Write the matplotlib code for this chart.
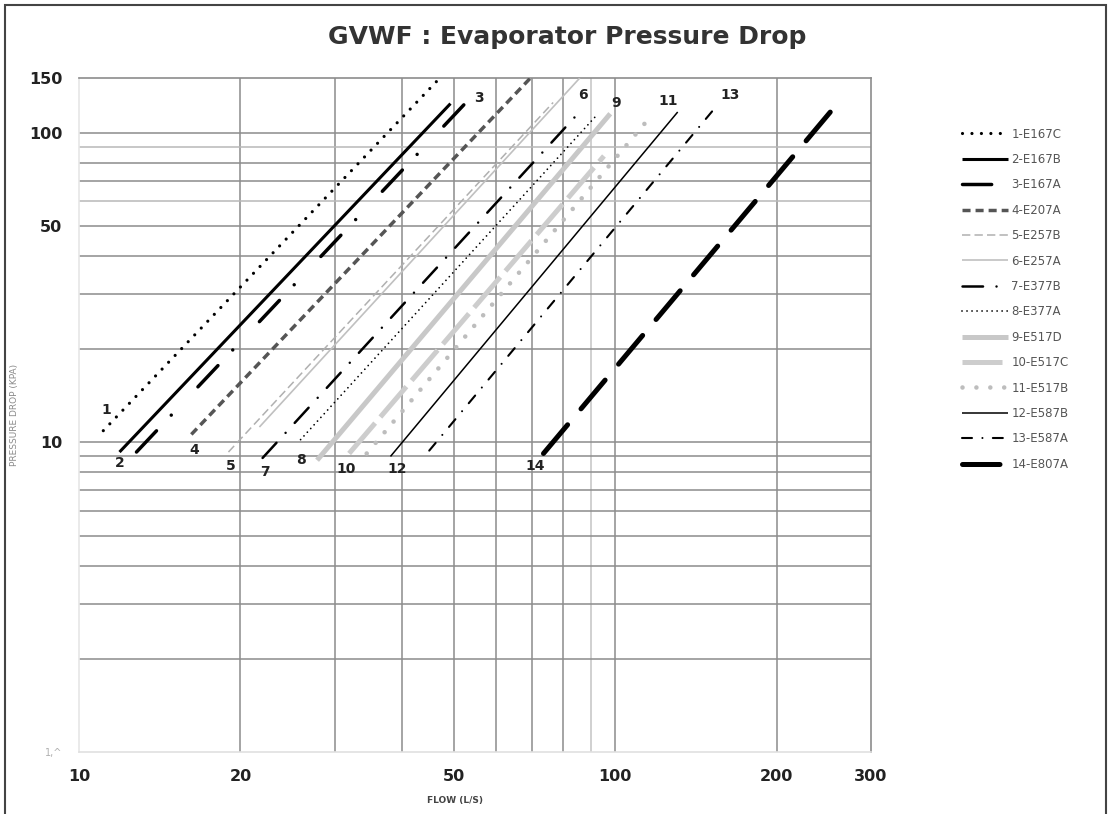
import numpy as np
import matplotlib
matplotlib.use('Agg')
import matplotlib.pyplot as plt
from matplotlib.patches import Rectangle

plt.rcParams['font.family'] = ['DejaVu Sans']
plt.rcParams['lines.scale_dashes'] = False

# series: two end points per model (straight lines on log-log)
models = ['1-E167C', '2-E167B', '3-E167A', '4-E207A', '5-E257B', '6-E257A', '7-E377B',
          '8-E377A', '9-E517D', '10-E517C', '11-E517B', '12-E587B', '13-E587A', '14-E807A']
flow_start = [11.1, 11.9, 12.8, 16.2, 19.0, 21.7, 22.0, 25.9, 27.8, 31.9, 34.4, 38.1, 45.0, 73.5]
flow_end = [47.1, 49.3, 52.7, 69.5, 76.6, 85.9, 85.2, 92.9, 97.9, 95.3, 115.4, 130.8, 151.6, 256.6]
dp_start = [10.9, 9.3, 9.3, 10.6, 9.3, 11.2, 8.9, 10.2, 8.75, 9.2, 9.2, 9.0, 9.4, 9.2]
dp_end = [150, 124, 125, 150, 125, 150, 115, 115, 115, 84, 110.6, 116.5, 117, 121]

x_ticks = [10, 20, 50, 100, 200, 300]
y_ticks = [1, 10, 50, 100, 150]
y_tick_labels = ['1,^', '10', '50', '100', '150']

# line styles (color, width pt, dash pattern pt, cap)
styles = [
    ('black', 2.3, (0, (0.01, 6.8)), 'round'),
    ('black', 2.2, '-', 'butt'),
    ('black', 2.5, (0, (21, 15.5, 0.01, 28)), 'round'),
    ('#555555', 2.5, (0, (5.8, 3.6)), 'butt'),
    ('#b0b0b0', 1.1, (0, (6, 3)), 'butt'),
    ('#c0c0c0', 1.2, '-', 'butt'),
    ('black', 1.8, (0, (14.8, 9.7, 0.01, 9.7)), 'round'),
    ('black', 1.3, (0, (0.01, 3.6)), 'round'),
    ('#c8c8c8', 3.6, '-', 'butt'),
    ('#cdcdcd', 3.6, (0, (28.8, 5.8)), 'butt'),
    ('#bdbdbd', 3.3, (0, (0.01, 10)), 'round'),
    ('black', 1.1, '-', 'butt'),
    ('black', 1.5, (0, (7.2, 7.5, 0.01, 7.5)), 'round'),
    ('black', 3.6, (0, (27, 15)), 'round'),
]

# number labels: which end, offset in points
num_pos = [('s', 2, 15), ('s', 0, -8), ('e', 9, 3), ('s', 2, -11), ('s', 2, -10), ('e', 2, -12),
           ('s', 2, -10), ('s', 0, -15), ('e', 4, 8), ('s', -2, -11), ('e', 14, 13), ('s', 5, -9),
           ('e', 13, 12), ('s', -6, -9)]

fig = plt.figure(figsize=(11.12, 8.14), dpi=100)
ax = fig.add_axes([79 / 1112, 62 / 814, 792 / 1112, 674 / 814])
ax.set_xscale('log')
ax.set_yscale('log')
ax.set_xlim(10, 300)
ax.set_ylim(1, 150)

grid_c = '#8c8c8c'
for v in [20, 30, 40, 50, 60, 70, 80, 90, 100, 200]:
    ax.axvline(v, color='#c4c4c4' if v == 90 else grid_c, lw=1.1, zorder=1)
for v in [2, 3, 4, 5, 6, 7, 8, 9, 10, 20, 30, 40, 50, 60, 70, 80, 90, 100]:
    ax.axhline(v, color='#b8b8b8' if v in (60, 90) else grid_c, lw=1.1, zorder=1)

for i in range(len(models)):
    c, lw, ls, cap = styles[i]
    ax.plot([flow_start[i], flow_end[i]], [dp_start[i], dp_end[i]], color=c, lw=lw,
            linestyle=ls, dash_capstyle=cap, solid_capstyle=cap, label=models[i], zorder=3)
    end, dx, dy = num_pos[i]
    px = flow_start[i] if end == 's' else flow_end[i]
    py = dp_start[i] if end == 's' else dp_end[i]
    ax.annotate(models[i].split('-')[0], (px, py), xytext=(dx, dy), textcoords='offset points',
                ha='center', va='center', fontsize=10, fontweight='bold', color='#222222', zorder=4)

ax.set_xticks(x_ticks)
ax.set_xticklabels([str(v) for v in x_ticks])
ax.set_yticks(y_ticks)
ax.set_yticklabels(y_tick_labels)
ax.minorticks_off()
ax.tick_params(length=0, labelsize=11.5, pad=12)
for lab in ax.get_xticklabels() + ax.get_yticklabels():
    lab.set_fontweight('bold')
    lab.set_color('#222222')
ylabs = ax.get_yticklabels()
ylabs[0].set_color('#b0b0b0')
ylabs[0].set_fontsize(7)
ylabs[0].set_fontweight('normal')

ax.spines['top'].set_color(grid_c)
ax.spines['right'].set_color(grid_c)
ax.spines['left'].set_color('#e6e6e6')
ax.spines['bottom'].set_color('#e0e0e0')
for s in ax.spines.values():
    s.set_linewidth(1.2)

fig.text(567 / 1112, 1 - 37 / 814, 'GVWF : Evaporator Pressure Drop', ha='center', va='center',
         fontsize=18, fontweight='bold', color='#333333')
fig.text(15 / 1112, 1 - 415 / 814, 'PRESSURE DROP (KPA)', rotation=90, ha='center', va='center',
         fontsize=6.5, color='#8a8a8a')
fig.text(455 / 1112, 1 - 800 / 814, 'FLOW (L/S)', ha='center', va='center',
         fontsize=6.5, fontweight='bold', color='#444444')

fig.legend(loc='upper left', bbox_to_anchor=(951 / 1112, 1 - 117 / 814), frameon=False,
           fontsize=8.5, handlelength=3.9, handletextpad=0.3, labelspacing=1.05,
           labelcolor='#555555')

fig.patches.append(Rectangle((5 / 1112, -0.05), 1101 / 1112, 1.05 - 5 / 814,
                             transform=fig.transFigure, fill=False, edgecolor='#444444', lw=1.5))

fig.savefig('out.png', dpi=100, facecolor='white')
